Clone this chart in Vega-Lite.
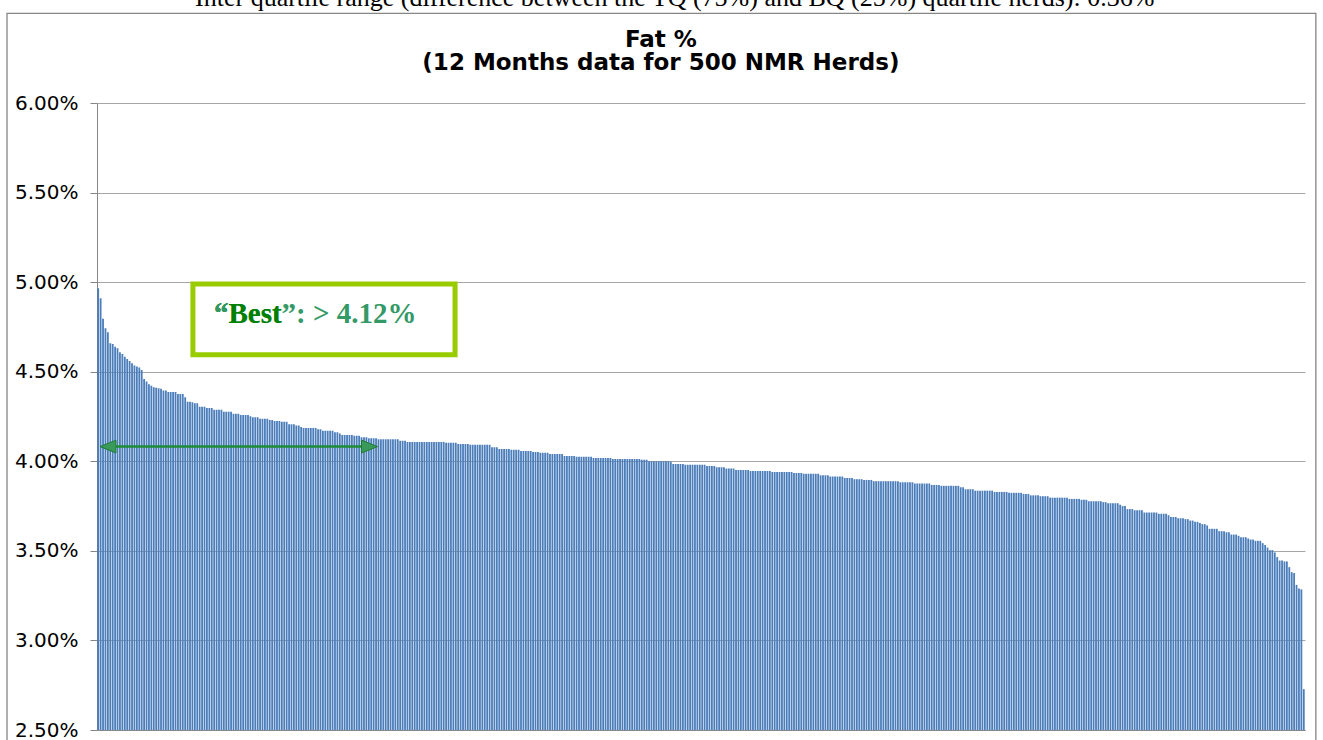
{
  "$schema": "https://vega.github.io/schema/vega-lite/v6.json",
  "width": 1208,
  "height": 627,
  "autosize": {"type": "none"},
  "padding": {"left": 97, "top": 103, "right": 18, "bottom": 10},
  "background": "white",
  "config": {"view": {"stroke": null}, "font": "DejaVu Sans"},
  "layer": [
    {
      "data": {"values": [
{"r":1,"v":4.966},{"r":2,"v":4.910},{"r":3,"v":4.795},{"r":4,"v":4.743},{"r":5,"v":4.720},{"r":6,"v":4.659},{"r":7,"v":4.655},{"r":8,"v":4.640},{"r":9,"v":4.631},{"r":10,"v":4.609},
{"r":11,"v":4.599},{"r":12,"v":4.584},{"r":13,"v":4.571},{"r":14,"v":4.560},{"r":15,"v":4.547},{"r":16,"v":4.534},{"r":17,"v":4.529},{"r":18,"v":4.523},{"r":19,"v":4.510},{"r":20,"v":4.460},
{"r":21,"v":4.445},{"r":22,"v":4.430},{"r":23,"v":4.421},{"r":24,"v":4.413},{"r":25,"v":4.410},{"r":26,"v":4.408},{"r":27,"v":4.405},{"r":28,"v":4.395},{"r":29,"v":4.395},{"r":30,"v":4.387},
{"r":31,"v":4.387},{"r":32,"v":4.387},{"r":33,"v":4.387},{"r":34,"v":4.376},{"r":35,"v":4.376},{"r":36,"v":4.376},{"r":37,"v":4.357},{"r":38,"v":4.333},{"r":39,"v":4.333},{"r":40,"v":4.330},
{"r":41,"v":4.324},{"r":42,"v":4.324},{"r":43,"v":4.305},{"r":44,"v":4.305},{"r":45,"v":4.305},{"r":46,"v":4.298},{"r":47,"v":4.298},{"r":48,"v":4.298},{"r":49,"v":4.287},{"r":50,"v":4.287},
{"r":51,"v":4.287},{"r":52,"v":4.287},{"r":53,"v":4.277},{"r":54,"v":4.277},{"r":55,"v":4.277},{"r":56,"v":4.277},{"r":57,"v":4.265},{"r":58,"v":4.265},{"r":59,"v":4.265},{"r":60,"v":4.259},
{"r":61,"v":4.259},{"r":62,"v":4.259},{"r":63,"v":4.259},{"r":64,"v":4.252},{"r":65,"v":4.246},{"r":66,"v":4.246},{"r":67,"v":4.246},{"r":68,"v":4.238},{"r":69,"v":4.238},{"r":70,"v":4.238},
{"r":71,"v":4.238},{"r":72,"v":4.231},{"r":73,"v":4.231},{"r":74,"v":4.225},{"r":75,"v":4.225},{"r":76,"v":4.225},{"r":77,"v":4.220},{"r":78,"v":4.220},{"r":79,"v":4.220},{"r":80,"v":4.207},
{"r":81,"v":4.207},{"r":82,"v":4.207},{"r":83,"v":4.200},{"r":84,"v":4.200},{"r":85,"v":4.192},{"r":86,"v":4.186},{"r":87,"v":4.186},{"r":88,"v":4.186},{"r":89,"v":4.186},{"r":90,"v":4.186},
{"r":91,"v":4.186},{"r":92,"v":4.179},{"r":93,"v":4.179},{"r":94,"v":4.170},{"r":95,"v":4.170},{"r":96,"v":4.170},{"r":97,"v":4.170},{"r":98,"v":4.170},{"r":99,"v":4.162},{"r":100,"v":4.162},
{"r":101,"v":4.155},{"r":102,"v":4.147},{"r":103,"v":4.147},{"r":104,"v":4.147},{"r":105,"v":4.147},{"r":106,"v":4.147},{"r":107,"v":4.142},{"r":108,"v":4.142},{"r":109,"v":4.142},{"r":110,"v":4.134},
{"r":111,"v":4.134},{"r":112,"v":4.134},{"r":113,"v":4.129},{"r":114,"v":4.129},{"r":115,"v":4.129},{"r":116,"v":4.129},{"r":117,"v":4.123},{"r":118,"v":4.123},{"r":119,"v":4.123},{"r":120,"v":4.123},
{"r":121,"v":4.123},{"r":122,"v":4.123},{"r":123,"v":4.123},{"r":124,"v":4.123},{"r":125,"v":4.123},{"r":126,"v":4.115},{"r":127,"v":4.115},{"r":128,"v":4.115},{"r":129,"v":4.108},{"r":130,"v":4.108},
{"r":131,"v":4.108},{"r":132,"v":4.108},{"r":133,"v":4.108},{"r":134,"v":4.108},{"r":135,"v":4.108},{"r":136,"v":4.108},{"r":137,"v":4.108},{"r":138,"v":4.108},{"r":139,"v":4.108},{"r":140,"v":4.108},
{"r":141,"v":4.108},{"r":142,"v":4.108},{"r":143,"v":4.108},{"r":144,"v":4.108},{"r":145,"v":4.103},{"r":146,"v":4.103},{"r":147,"v":4.103},{"r":148,"v":4.103},{"r":149,"v":4.103},{"r":150,"v":4.097},
{"r":151,"v":4.097},{"r":152,"v":4.097},{"r":153,"v":4.097},{"r":154,"v":4.097},{"r":155,"v":4.092},{"r":156,"v":4.092},{"r":157,"v":4.092},{"r":158,"v":4.092},{"r":159,"v":4.092},{"r":160,"v":4.092},
{"r":161,"v":4.092},{"r":162,"v":4.092},{"r":163,"v":4.092},{"r":164,"v":4.079},{"r":165,"v":4.079},{"r":166,"v":4.079},{"r":167,"v":4.069},{"r":168,"v":4.069},{"r":169,"v":4.069},{"r":170,"v":4.069},
{"r":171,"v":4.069},{"r":172,"v":4.064},{"r":173,"v":4.064},{"r":174,"v":4.064},{"r":175,"v":4.064},{"r":176,"v":4.058},{"r":177,"v":4.058},{"r":178,"v":4.058},{"r":179,"v":4.058},{"r":180,"v":4.058},
{"r":181,"v":4.052},{"r":182,"v":4.052},{"r":183,"v":4.052},{"r":184,"v":4.047},{"r":185,"v":4.047},{"r":186,"v":4.047},{"r":187,"v":4.047},{"r":188,"v":4.040},{"r":189,"v":4.040},{"r":190,"v":4.040},
{"r":191,"v":4.040},{"r":192,"v":4.040},{"r":193,"v":4.040},{"r":194,"v":4.030},{"r":195,"v":4.030},{"r":196,"v":4.030},{"r":197,"v":4.030},{"r":198,"v":4.030},{"r":199,"v":4.025},{"r":200,"v":4.025},
{"r":201,"v":4.025},{"r":202,"v":4.025},{"r":203,"v":4.025},{"r":204,"v":4.025},{"r":205,"v":4.025},{"r":206,"v":4.019},{"r":207,"v":4.019},{"r":208,"v":4.019},{"r":209,"v":4.019},{"r":210,"v":4.019},
{"r":211,"v":4.019},{"r":212,"v":4.019},{"r":213,"v":4.019},{"r":214,"v":4.013},{"r":215,"v":4.013},{"r":216,"v":4.013},{"r":217,"v":4.013},{"r":218,"v":4.013},{"r":219,"v":4.013},{"r":220,"v":4.013},
{"r":221,"v":4.013},{"r":222,"v":4.013},{"r":223,"v":4.013},{"r":224,"v":4.013},{"r":225,"v":4.013},{"r":226,"v":4.008},{"r":227,"v":4.008},{"r":228,"v":4.008},{"r":229,"v":4.000},{"r":230,"v":4.000},
{"r":231,"v":4.000},{"r":232,"v":4.000},{"r":233,"v":4.000},{"r":234,"v":4.000},{"r":235,"v":4.000},{"r":236,"v":4.000},{"r":237,"v":4.000},{"r":238,"v":3.998},{"r":239,"v":3.985},{"r":240,"v":3.985},
{"r":241,"v":3.985},{"r":242,"v":3.985},{"r":243,"v":3.985},{"r":244,"v":3.980},{"r":245,"v":3.980},{"r":246,"v":3.980},{"r":247,"v":3.980},{"r":248,"v":3.980},{"r":249,"v":3.980},{"r":250,"v":3.980},
{"r":251,"v":3.980},{"r":252,"v":3.980},{"r":253,"v":3.974},{"r":254,"v":3.974},{"r":255,"v":3.974},{"r":256,"v":3.974},{"r":257,"v":3.967},{"r":258,"v":3.967},{"r":259,"v":3.967},{"r":260,"v":3.967},
{"r":261,"v":3.960},{"r":262,"v":3.960},{"r":263,"v":3.960},{"r":264,"v":3.960},{"r":265,"v":3.952},{"r":266,"v":3.952},{"r":267,"v":3.952},{"r":268,"v":3.952},{"r":269,"v":3.952},{"r":270,"v":3.952},
{"r":271,"v":3.946},{"r":272,"v":3.946},{"r":273,"v":3.946},{"r":274,"v":3.946},{"r":275,"v":3.946},{"r":276,"v":3.946},{"r":277,"v":3.946},{"r":278,"v":3.946},{"r":279,"v":3.946},{"r":280,"v":3.940},
{"r":281,"v":3.940},{"r":282,"v":3.940},{"r":283,"v":3.940},{"r":284,"v":3.940},{"r":285,"v":3.940},{"r":286,"v":3.940},{"r":287,"v":3.940},{"r":288,"v":3.940},{"r":289,"v":3.935},{"r":290,"v":3.935},
{"r":291,"v":3.935},{"r":292,"v":3.935},{"r":293,"v":3.930},{"r":294,"v":3.930},{"r":295,"v":3.930},{"r":296,"v":3.930},{"r":297,"v":3.930},{"r":298,"v":3.930},{"r":299,"v":3.930},{"r":300,"v":3.922},
{"r":301,"v":3.922},{"r":302,"v":3.922},{"r":303,"v":3.922},{"r":304,"v":3.915},{"r":305,"v":3.915},{"r":306,"v":3.915},{"r":307,"v":3.915},{"r":308,"v":3.915},{"r":309,"v":3.915},{"r":310,"v":3.907},
{"r":311,"v":3.907},{"r":312,"v":3.907},{"r":313,"v":3.907},{"r":314,"v":3.900},{"r":315,"v":3.900},{"r":316,"v":3.900},{"r":317,"v":3.900},{"r":318,"v":3.896},{"r":319,"v":3.896},{"r":320,"v":3.896},
{"r":321,"v":3.896},{"r":322,"v":3.889},{"r":323,"v":3.889},{"r":324,"v":3.889},{"r":325,"v":3.889},{"r":326,"v":3.889},{"r":327,"v":3.889},{"r":328,"v":3.889},{"r":329,"v":3.889},{"r":330,"v":3.889},
{"r":331,"v":3.889},{"r":332,"v":3.889},{"r":333,"v":3.883},{"r":334,"v":3.883},{"r":335,"v":3.883},{"r":336,"v":3.883},{"r":337,"v":3.883},{"r":338,"v":3.883},{"r":339,"v":3.876},{"r":340,"v":3.876},
{"r":341,"v":3.876},{"r":342,"v":3.876},{"r":343,"v":3.876},{"r":344,"v":3.876},{"r":345,"v":3.876},{"r":346,"v":3.868},{"r":347,"v":3.868},{"r":348,"v":3.868},{"r":349,"v":3.868},{"r":350,"v":3.863},
{"r":351,"v":3.863},{"r":352,"v":3.863},{"r":353,"v":3.863},{"r":354,"v":3.863},{"r":355,"v":3.863},{"r":356,"v":3.863},{"r":357,"v":3.863},{"r":358,"v":3.855},{"r":359,"v":3.855},{"r":360,"v":3.844},
{"r":361,"v":3.844},{"r":362,"v":3.844},{"r":363,"v":3.844},{"r":364,"v":3.836},{"r":365,"v":3.836},{"r":366,"v":3.836},{"r":367,"v":3.836},{"r":368,"v":3.836},{"r":369,"v":3.836},{"r":370,"v":3.836},
{"r":371,"v":3.836},{"r":372,"v":3.829},{"r":373,"v":3.829},{"r":374,"v":3.829},{"r":375,"v":3.829},{"r":376,"v":3.829},{"r":377,"v":3.829},{"r":378,"v":3.824},{"r":379,"v":3.824},{"r":380,"v":3.824},
{"r":381,"v":3.824},{"r":382,"v":3.824},{"r":383,"v":3.824},{"r":384,"v":3.818},{"r":385,"v":3.818},{"r":386,"v":3.818},{"r":387,"v":3.810},{"r":388,"v":3.810},{"r":389,"v":3.810},{"r":390,"v":3.810},
{"r":391,"v":3.805},{"r":392,"v":3.805},{"r":393,"v":3.805},{"r":394,"v":3.805},{"r":395,"v":3.797},{"r":396,"v":3.797},{"r":397,"v":3.797},{"r":398,"v":3.797},{"r":399,"v":3.797},{"r":400,"v":3.797},
{"r":401,"v":3.797},{"r":402,"v":3.797},{"r":403,"v":3.790},{"r":404,"v":3.790},{"r":405,"v":3.790},{"r":406,"v":3.790},{"r":407,"v":3.790},{"r":408,"v":3.785},{"r":409,"v":3.785},{"r":410,"v":3.785},
{"r":411,"v":3.777},{"r":412,"v":3.777},{"r":413,"v":3.777},{"r":414,"v":3.777},{"r":415,"v":3.777},{"r":416,"v":3.777},{"r":417,"v":3.772},{"r":418,"v":3.772},{"r":419,"v":3.766},{"r":420,"v":3.766},
{"r":421,"v":3.766},{"r":422,"v":3.766},{"r":423,"v":3.766},{"r":424,"v":3.757},{"r":425,"v":3.750},{"r":426,"v":3.750},{"r":427,"v":3.733},{"r":428,"v":3.733},{"r":429,"v":3.733},{"r":430,"v":3.727},
{"r":431,"v":3.727},{"r":432,"v":3.727},{"r":433,"v":3.727},{"r":434,"v":3.714},{"r":435,"v":3.714},{"r":436,"v":3.714},{"r":437,"v":3.714},{"r":438,"v":3.714},{"r":439,"v":3.714},{"r":440,"v":3.707},
{"r":441,"v":3.707},{"r":442,"v":3.707},{"r":443,"v":3.707},{"r":444,"v":3.699},{"r":445,"v":3.689},{"r":446,"v":3.689},{"r":447,"v":3.689},{"r":448,"v":3.682},{"r":449,"v":3.682},{"r":450,"v":3.682},
{"r":451,"v":3.677},{"r":452,"v":3.677},{"r":453,"v":3.669},{"r":454,"v":3.669},{"r":455,"v":3.662},{"r":456,"v":3.662},{"r":457,"v":3.655},{"r":458,"v":3.649},{"r":459,"v":3.649},{"r":460,"v":3.642},
{"r":461,"v":3.623},{"r":462,"v":3.623},{"r":463,"v":3.623},{"r":464,"v":3.623},{"r":465,"v":3.610},{"r":466,"v":3.610},{"r":467,"v":3.610},{"r":468,"v":3.604},{"r":469,"v":3.604},{"r":470,"v":3.591},
{"r":471,"v":3.591},{"r":472,"v":3.591},{"r":473,"v":3.584},{"r":474,"v":3.576},{"r":475,"v":3.576},{"r":476,"v":3.576},{"r":477,"v":3.569},{"r":478,"v":3.563},{"r":479,"v":3.563},{"r":480,"v":3.556},
{"r":481,"v":3.556},{"r":482,"v":3.556},{"r":483,"v":3.543},{"r":484,"v":3.533},{"r":485,"v":3.518},{"r":486,"v":3.504},{"r":487,"v":3.504},{"r":488,"v":3.491},{"r":489,"v":3.465},{"r":490,"v":3.446},
{"r":491,"v":3.446},{"r":492,"v":3.441},{"r":493,"v":3.441},{"r":494,"v":3.409},{"r":495,"v":3.381},{"r":496,"v":3.376},{"r":497,"v":3.310},{"r":498,"v":3.290},{"r":499,"v":3.285},{"r":500,"v":2.728}
      ]},
      "mark": {"type": "bar", "width": 1.8, "color": "#4A7DBA"},
      "encoding": {
        "x": {
          "field": "r", "type": "quantitative",
          "scale": {"domain": [0.5, 500.5], "nice": false, "zero": false, "padding": 0},
          "axis": {"title": null, "labels": false, "ticks": false, "grid": false, "domainColor": "#868686", "domainWidth": 1}
        },
        "y": {
          "field": "v", "type": "quantitative",
          "scale": {"domain": [2.5, 6], "nice": false, "zero": false},
          "axis": {
            "title": null,
            "values": [2.5, 3, 3.5, 4, 4.5, 5, 5.5, 6],
            "labelExpr": "format(datum.value, '.2f') + '%'",
            "grid": true, "gridColor": "#A6A6A6", "gridWidth": 1,
            "domainColor": "#868686", "tickColor": "#868686", "tickSize": 7,
            "labelFont": "DejaVu Sans", "labelFontSize": 20, "labelColor": "black", "labelPadding": 12
          }
        },
        "y2": {"datum": 2.5}
      }
    },
    {
      "data": {"values": [{}]},
      "mark": {"type": "rect", "filled": false, "stroke": "#868686", "strokeWidth": 1.3, "clip": false},
      "encoding": {
        "x": {"datum": -36.75, "type": "quantitative", "axis": {"title": null}},
        "x2": {"datum": 505},
        "y": {"datum": 6.5, "type": "quantitative", "axis": {"title": null}},
        "y2": {"datum": 2.0}
      }
    },
    {
      "data": {"values": [{}]},
      "mark": {"type": "text", "text": "Inter quartile range (difference between the TQ (75%) and BQ (25%) quartile herds): 0.36%", "font": "Liberation Serif", "fontSize": 26, "align": "left", "baseline": "alphabetic", "color": "black", "clip": false},
      "encoding": {
        "x": {"datum": 41.1, "type": "quantitative", "axis": {"title": null}},
        "y": {"datum": 6.54, "type": "quantitative", "axis": {"title": null}}
      }
    },
    {
      "data": {"values": [{}]},
      "mark": {"type": "text", "text": "Fat %", "font": "DejaVu Sans", "fontWeight": "bold", "fontSize": 23, "align": "center", "baseline": "middle", "color": "black", "clip": false},
      "encoding": {
        "x": {"datum": 233.9, "type": "quantitative", "axis": {"title": null}},
        "y": {"datum": 6.352, "type": "quantitative", "axis": {"title": null}}
      }
    },
    {
      "data": {"values": [{}]},
      "mark": {"type": "text", "text": "(12 Months data for 500 NMR Herds)", "font": "DejaVu Sans", "fontWeight": "bold", "fontSize": 23, "align": "center", "baseline": "middle", "color": "black", "clip": false},
      "encoding": {
        "x": {"datum": 233.9, "type": "quantitative", "axis": {"title": null}},
        "y": {"datum": 6.223, "type": "quantitative", "axis": {"title": null}}
      }
    },
    {
      "data": {"values": [{}]},
      "mark": {"type": "rect", "fill": "white", "stroke": "#99CC00", "strokeWidth": 5},
      "encoding": {
        "x": {"datum": 40.2, "type": "quantitative", "axis": {"title": null}},
        "x2": {"datum": 148.7},
        "y": {"datum": 4.99, "type": "quantitative", "axis": {"title": null}},
        "y2": {"datum": 4.594}
      }
    },
    {
      "data": {"values": [{}]},
      "mark": {"type": "text", "text": "“Best”: > 4.12%", "font": "Liberation Serif", "fontWeight": "bold", "fontSize": 29, "align": "left", "baseline": "alphabetic", "color": "#339966"},
      "encoding": {
        "x": {"datum": 48.9, "type": "quantitative", "axis": {"title": null}},
        "y": {"datum": 4.774, "type": "quantitative", "axis": {"title": null}}
      }
    },
    {
      "data": {"values": [{}]},
      "mark": {"type": "text", "text": "“Best", "font": "Liberation Serif", "fontWeight": "bold", "fontSize": 29, "align": "left", "baseline": "alphabetic", "color": "#008000"},
      "encoding": {
        "x": {"datum": 48.9, "type": "quantitative", "axis": {"title": null}},
        "y": {"datum": 4.774, "type": "quantitative", "axis": {"title": null}}
      }
    },
    {
      "data": {"values": [{}]},
      "mark": {"type": "text", "text": "“", "font": "Liberation Serif", "fontWeight": "bold", "fontSize": 29, "align": "left", "baseline": "alphabetic", "color": "#339966"},
      "encoding": {
        "x": {"datum": 48.9, "type": "quantitative", "axis": {"title": null}},
        "y": {"datum": 4.774, "type": "quantitative", "axis": {"title": null}}
      }
    },
    {
      "data": {"values": [{}]},
      "mark": {"type": "rule", "stroke": "#1E8C36", "strokeWidth": 2.5},
      "encoding": {
        "x": {"datum": 5, "type": "quantitative", "axis": {"title": null}},
        "x2": {"datum": 113.3},
        "y": {"datum": 4.082, "type": "quantitative", "axis": {"title": null}}
      }
    },
    {
      "data": {"values": [{"s": "left", "p": 5.05}, {"s": "right", "p": 113.3}]},
      "mark": {"type": "point", "filled": true, "fill": "#3A9A5A", "stroke": "#1E7B34", "strokeWidth": 1, "opacity": 1, "size": 256},
      "encoding": {
        "x": {"field": "p", "type": "quantitative", "axis": {"title": null}},
        "y": {"datum": 4.082, "type": "quantitative", "axis": {"title": null}},
        "shape": {"field": "s", "type": "nominal", "scale": {"domain": ["left", "right"], "range": ["M1,-0.8L-1,0L1,0.8Z", "M-1,-0.8L1,0L-1,0.8Z"]}, "legend": null}
      }
    }
  ]
}
